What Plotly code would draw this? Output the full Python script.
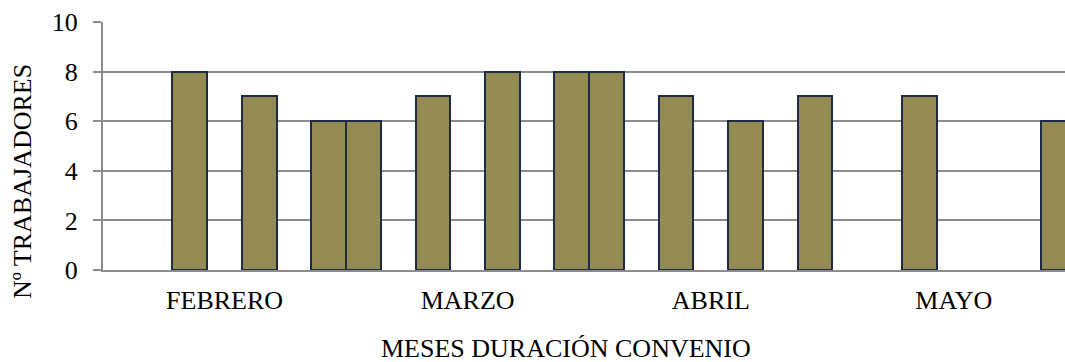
import plotly.graph_objects as go

# Posición de cada barra dentro del eje (una casilla por periodo) y nº de trabajadores
posiciones = [2, 4, 6, 7, 9, 11, 13, 14, 16, 18, 20, 23, 27]
trabajadores = [8, 7, 6, 6, 7, 8, 8, 8, 7, 6, 7, 7, 6]

# Etiquetas de mes y la casilla en la que se rotulan
meses = ["FEBRERO", "MARZO", "ABRIL", "MAYO"]
pos_meses = [3, 10, 17, 24]

y_ticks = [0, 2, 4, 6, 8, 10]

FONT = "Liberation Serif, Times New Roman, serif"
GRIS = "#8c8c8c"
TAM = 26

fig = go.Figure(
    go.Bar(
        x=posiciones,
        y=trabajadores,
        width=1,
        marker=dict(color="#948A54", line=dict(color="#1F2A44", width=2)),
    )
)

fig.update_layout(
    width=1065,
    height=362,
    margin=dict(l=103, r=0, t=22, b=92, autoexpand=False),
    paper_bgcolor="white",
    plot_bgcolor="white",
    showlegend=False,
    font=dict(family=FONT, size=TAM, color="black"),
    bargap=0,
)

fig.update_xaxes(
    range=[-0.5, 27.2],
    tickmode="array",
    tickvals=pos_meses,
    ticktext=meses,
    ticks="",
    showgrid=False,
    showline=True,
    linecolor=GRIS,
    linewidth=2,
    zeroline=False,
    ticklabelstandoff=6,
    tickfont=dict(family=FONT, size=TAM),
)

fig.update_yaxes(
    range=[0, 10],
    tickmode="array",
    tickvals=y_ticks,
    showgrid=True,
    gridcolor=GRIS,
    gridwidth=2,
    showline=True,
    linecolor=GRIS,
    linewidth=2,
    ticks="outside",
    ticklen=8,
    tickwidth=2,
    tickcolor=GRIS,
    zeroline=False,
    ticklabelstandoff=10,
    tickfont=dict(family=FONT, size=TAM),
)

# Títulos de los ejes
fig.add_annotation(
    text="MESES DURACIÓN CONVENIO",
    xref="paper", yref="paper",
    x=(566 - 103) / 962, y=0,
    xanchor="center", yanchor="middle",
    yshift=-78,
    showarrow=False,
    font=dict(family=FONT, size=TAM),
)
fig.add_annotation(
    text="Nº TRABAJADORES",
    xref="paper", yref="paper",
    x=0, y=(270 - 182) / 248,
    xanchor="center", yanchor="middle",
    xshift=-81,
    textangle=-90,
    showarrow=False,
    font=dict(family=FONT, size=TAM),
)

fig.write_html("out.html")
